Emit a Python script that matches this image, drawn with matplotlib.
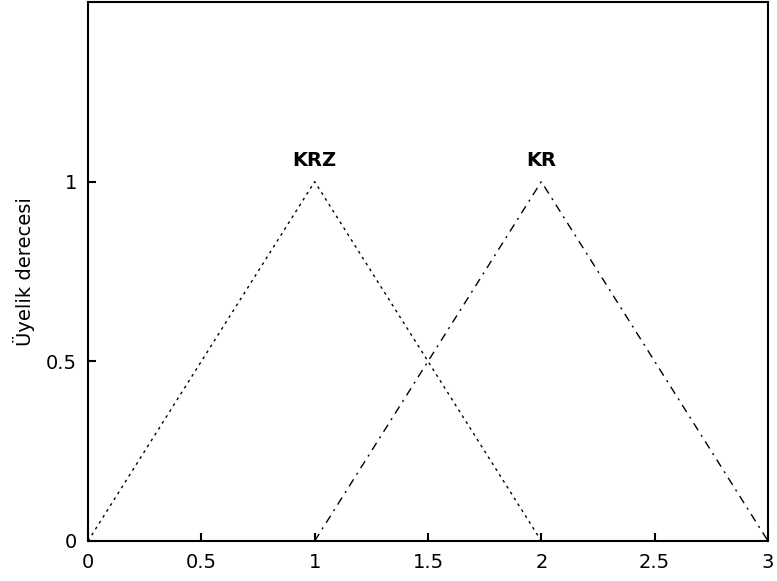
import matplotlib
matplotlib.use("Agg")
import matplotlib.pyplot as plt

krz_x = [0, 1, 2]
krz_y = [0, 1, 0]
kr_x = [1, 2, 3]
kr_y = [0, 1, 0]
labels = ["KRZ", "KR"]
label_pos = [(1.0, 1.058), (2.0, 1.058)]
xticks = [0, 0.5, 1, 1.5, 2, 2.5, 3]
yticks = [0, 0.5, 1]

plt.rcParams['font.family'] = ['DejaVu Sans']
fig = plt.figure(figsize=(7.77, 5.81), dpi=100)
ax = fig.add_axes([88/777, 40/581, 680/777, 539/581])
ax.plot(krz_x, krz_y, linestyle=(0, (2, 3)), color='black', linewidth=1)
ax.plot(kr_x, kr_y, linestyle=(0, (6, 4, 1.5, 4)), color='black', linewidth=1)
for t, (x, y) in zip(labels, label_pos):
    ax.text(x, y, t, ha='center', va='center', fontsize=14, fontweight='bold')
ax.set_xlim(0, 3)
ax.set_ylim(0, 1.5)
ax.set_xticks(xticks)
ax.set_xticklabels(['0', '0.5', '1', '1.5', '2', '2.5', '3'])
ax.set_yticks(yticks)
ax.set_yticklabels(['0', '0.5', '1'])
ax.tick_params(direction='in', length=6, width=1.5, labelsize=14)
ax.tick_params(axis='x', pad=9)
ax.tick_params(axis='y', pad=8)
for s in ax.spines.values():
    s.set_linewidth(1.5)
ax.set_ylabel('Üyelik derecesi', fontsize=14, labelpad=8)
fig.savefig('out.png', dpi=100)
